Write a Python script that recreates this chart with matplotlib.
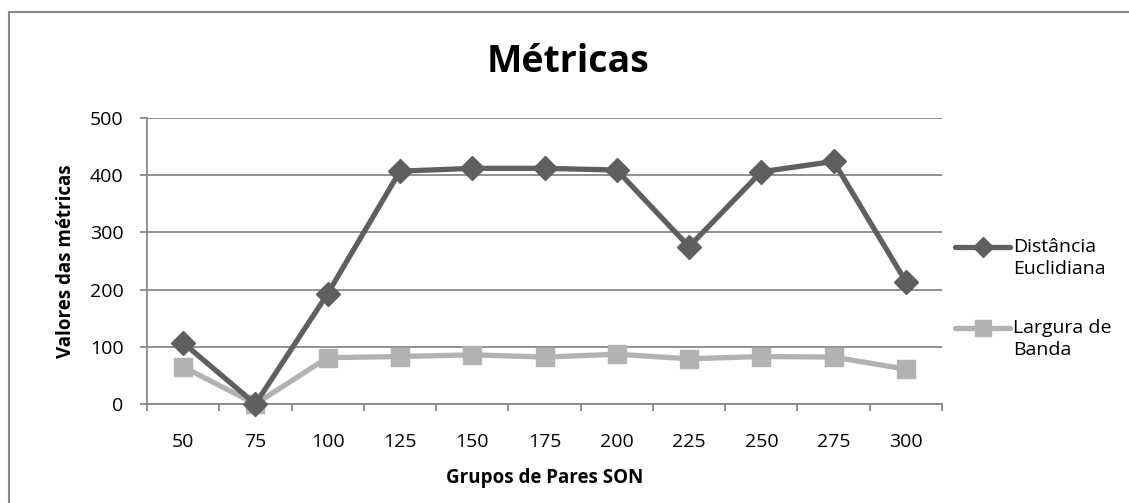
import matplotlib
matplotlib.use("Agg")
import matplotlib.pyplot as plt
from matplotlib.lines import Line2D
import numpy as np

plt.rcParams['font.family'] = ['Open Sans', 'DejaVu Sans']

categories = ["50", "75", "100", "125", "150", "175", "200", "225", "250", "275", "300"]
distancia = [107, 0, 193, 407, 412, 412, 409, 275, 406, 424, 214]
largura = [65, 0, 81, 83, 86, 82, 87, 79, 83, 82, 61]
series_names = ["Distância\nEuclidiana", "Largura de\nBanda"]
yticks = [0, 100, 200, 300, 400, 500]

W, H = 1129, 503
fig = plt.figure(figsize=(W / 100, H / 100), dpi=100)
ax = fig.add_axes([147 / W, 1 - 404 / H, (942 - 147) / W, (404 - 118) / H])

x = np.arange(len(categories)) + 0.5
dark = "#5f5f5f"
light = "#b2b2b2"
styles = [dict(color=dark, lw=3.8, marker="D", ms=12, zorder=4),
          dict(color=light, lw=3.8, marker="s", ms=13.5, zorder=3)]
ax.plot(x, distancia, clip_on=False, **styles[0])
ax.plot(x, largura, clip_on=False, **styles[1])

ax.set_xlim(0, len(categories))
ax.set_ylim(0, 500)
ax.set_yticks(yticks)
ax.set_yticklabels([str(v) for v in yticks])
ax.set_xticks(x)
ax.set_xticklabels(categories)
ax.set_xticks(np.arange(len(categories) + 1), minor=True)
ax.tick_params(axis="x", which="major", length=0, labelsize=14, pad=21)
ax.tick_params(axis="x", which="minor", length=5, width=1.3, color="#888888", direction="out")
ax.tick_params(axis="y", length=5, width=1.3, color="#888888", labelsize=14, pad=12)
ax.grid(axis="y", color="#888888", lw=1.3)
ax.set_axisbelow(True)
for s in ["top", "right"]:
    ax.spines[s].set_visible(False)
for s in ["left", "bottom"]:
    ax.spines[s].set_color("#888888")
    ax.spines[s].set_linewidth(1.3)

ax.set_xlabel("Grupos de Pares SON", fontsize=13.5, fontweight="bold", labelpad=12)
ax.set_ylabel("Valores das métricas", fontsize=13.5, fontweight="bold", labelpad=10)
fig.text(568 / W, 1 - 62 / H, "Métricas", ha="center", va="center",
         fontsize=27, fontweight="bold")

# legend: handle aligned with the first line of each label
legend_rows = [247, 328]  # pixel y of first text line
for name, st, ypix in zip(series_names, styles, legend_rows):
    yf = 1 - ypix / H
    st2 = dict(st)
    st2.pop("zorder")
    fig.add_artist(Line2D([955 / W, 1010 / W], [yf, yf], transform=fig.transFigure,
                          markevery=[], solid_capstyle="round", **st2))
    fig.add_artist(Line2D([982.5 / W], [yf], transform=fig.transFigure,
                          linestyle="none", marker=st["marker"], ms=st["ms"] * 0.85,
                          color=st["color"]))
    fig.text(1013 / W, 1 - (ypix - 9) / H, name, ha="left", va="top", fontsize=14,
             linespacing=1.3, transform=fig.transFigure)

# outer chart border (left and top visible)
fig.add_artist(Line2D([8.5 / W, 8.5 / W], [0, 1 - 12 / H], transform=fig.transFigure,
                      color="#888888", lw=1.5))
fig.add_artist(Line2D([8.5 / W, 1], [1 - 12 / H, 1 - 12 / H], transform=fig.transFigure,
                      color="#888888", lw=1.5))

fig.savefig("out.png", dpi=100)
